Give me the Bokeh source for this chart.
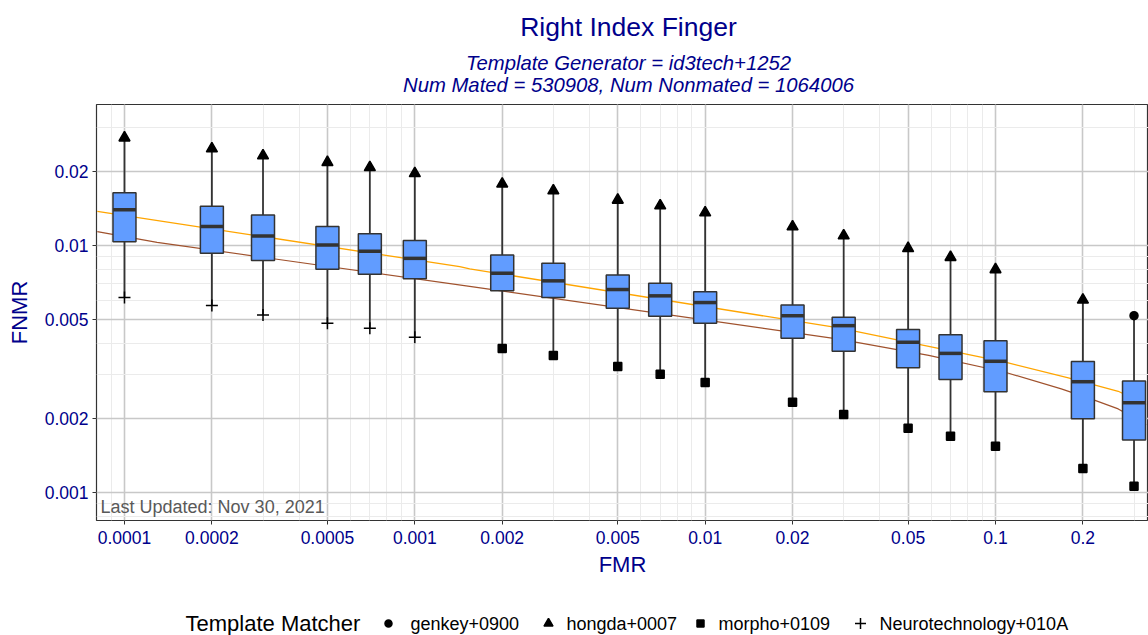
import numpy as np
from bokeh.plotting import figure
from bokeh.models import Range1d, FixedTicker, Label
from bokeh.layouts import column
from bokeh.embed import file_html
from bokeh.resources import INLINE
from bokeh.core.properties import value

# ---------------- data ----------------
FMR = [0.0001, 0.0002, 0.0003, 0.0005, 0.0007, 0.001, 0.002, 0.003, 0.005,
       0.007, 0.01, 0.02, 0.03, 0.05, 0.07, 0.1, 0.2, 0.3]
FNMR_MIN = [0.00616, 0.00572, 0.00524, 0.00485, 0.00463, 0.00425, 0.00383, 0.00359, 0.00324,
            0.00301, 0.00279, 0.00232, 0.00207, 0.00182, 0.00169, 0.00154, 0.00125, 0.00106]
FNMR_Q1 = [0.01038, 0.00931, 0.00870, 0.00802, 0.00765, 0.00735, 0.00656, 0.00616, 0.00558,
           0.00517, 0.00485, 0.00421, 0.00373, 0.00320, 0.00287, 0.00256, 0.00199, 0.00163]
FNMR_MED = [0.01399, 0.01194, 0.01095, 0.01007, 0.00948, 0.00888, 0.00773, 0.00720, 0.00664,
            0.00626, 0.00588, 0.00520, 0.00474, 0.00406, 0.00366, 0.00340, 0.00281, 0.00231]
FNMR_Q3 = [0.01639, 0.01443, 0.01331, 0.01194, 0.01118, 0.01048, 0.00917, 0.00848, 0.00761,
           0.00704, 0.00651, 0.00575, 0.00513, 0.00457, 0.00435, 0.00412, 0.00339, 0.00283]
FNMR_MAX = [0.02735, 0.02470, 0.02314, 0.02175, 0.02075, 0.01962, 0.01778, 0.01670, 0.01531,
            0.01452, 0.01360, 0.01194, 0.01098, 0.00975, 0.00897, 0.00800, 0.00603, 0.00520]
MAX_MATCHER = ["hongda+0007", "hongda+0007", "hongda+0007", "hongda+0007", "hongda+0007",
               "hongda+0007", "hongda+0007", "hongda+0007", "hongda+0007", "hongda+0007",
               "hongda+0007", "hongda+0007", "hongda+0007", "hongda+0007", "hongda+0007",
               "hongda+0007", "hongda+0007", "genkey+0900"]
MIN_MATCHER = ["Neurotechnology+010A", "Neurotechnology+010A", "Neurotechnology+010A",
               "Neurotechnology+010A", "Neurotechnology+010A", "Neurotechnology+010A",
               "morpho+0109", "morpho+0109", "morpho+0109", "morpho+0109", "morpho+0109",
               "morpho+0109", "morpho+0109", "morpho+0109", "morpho+0109", "morpho+0109",
               "morpho+0109", "morpho+0109"]

ORANGE_FMR = [0.0000806, 0.001428, 0.001545, 0.02888, 0.108, 0.1782, 0.2647, 0.3303]
ORANGE_FNMR = [0.01377, 0.00822, 0.00805, 0.00464, 0.00337, 0.00291, 0.00257, 0.00227]
BROWN_FMR = [0.0000806, 0.0001295, 0.001545, 0.02888, 0.0589, 0.108, 0.1685, 0.2202, 0.2647, 0.3303]
BROWN_FNMR = [0.01139, 0.01031, 0.00684, 0.00418, 0.00359, 0.00307, 0.00263, 0.00236, 0.00218, 0.00188]

MATCHERS = ["genkey+0900", "hongda+0007", "morpho+0109", "Neurotechnology+010A"]
MARKERS = ["circle", "triangle", "square", "cross"]

X_TICKS = [0.0001, 0.0002, 0.0005, 0.001, 0.002, 0.005, 0.01, 0.02, 0.05, 0.1, 0.2]
X_LABELS = ["0.0001", "0.0002", "0.0005", "0.001", "0.002", "0.005", "0.01", "0.02", "0.05", "0.1", "0.2"]
Y_TICKS = [0.001, 0.002, 0.005, 0.01, 0.02]
Y_LABELS = ["0.001", "0.002", "0.005", "0.01", "0.02"]

TITLE = "Right Index Finger"
SUB1 = "Template Generator = id3tech+1252"
SUB2 = "Num Mated = 530908, Num Nonmated = 1064006"
NOTE = "Last Updated: Nov 30, 2021"
LEGEND_TITLE = "Template Matcher"

# ---------------- style / layout ----------------
FONT = "Liberation Sans"
BLUE = "#00008B"
X_MIN, X_MAX = 8.01e-5, 0.3365
Y_MIN, Y_MAX = 0.00077, 0.0373
W = 1148
LEFT_B = 96
TITLE_H = 102          # header strip height
MAIN_TOP_B, FRAME_H, MAIN_BOTTOM_B = 2, 416, 64
MAIN_H = MAIN_TOP_B + FRAME_H + MAIN_BOTTOM_B
LEG_H = 635 - TITLE_H - MAIN_H
FRAME_W = W - LEFT_B
BOX_HALF_PX = 11.5
CENTER_X = 628

px_per_dec_x = FRAME_W / np.log10(X_MAX / X_MIN)
fac = 10 ** (BOX_HALF_PX / px_per_dec_x)
fmr = np.array(FMR)
box_left = fmr / fac
box_right = fmr * fac


def minor_list(lo, hi):
    out = []
    for e in range(-6, 1):
        for k in range(1, 10):
            v = k * 10.0 ** e
            if lo <= v <= hi:
                out.append(v)
    return out


def strip(height):
    f = figure(width=W, height=height, x_range=Range1d(LEFT_B, W), y_range=Range1d(0, height),
               output_backend="svg", toolbar_location=None,
               min_border_left=LEFT_B, min_border_right=0, min_border_top=0,
               min_border_bottom=0, x_axis_location=None, y_axis_location=None)
    f.grid.visible = False
    f.outline_line_color = None
    f.border_fill_color = "white"
    f.background_fill_color = "white"
    return f


# ---------------- header ----------------
hdr = strip(TITLE_H)
hdr.text(x=[CENTER_X], y=[TITLE_H - 26], text=[TITLE], text_font=value(FONT),
         text_font_size="26.5px", text_align="center", text_baseline="middle", text_color=BLUE)
hdr.text(x=[CENTER_X], y=[TITLE_H - 62], text=[SUB1], text_font=value(FONT),
         text_font_size="20.3px", text_font_style="italic", text_align="center",
         text_baseline="middle", text_color=BLUE)
hdr.text(x=[CENTER_X], y=[TITLE_H - 84], text=[SUB2], text_font=value(FONT),
         text_font_size="20.3px", text_font_style="italic", text_align="center",
         text_baseline="middle", text_color=BLUE)

# ---------------- main plot ----------------
p = figure(width=W, height=MAIN_H, x_axis_type="log", y_axis_type="log",
           x_range=Range1d(X_MIN, X_MAX), y_range=Range1d(Y_MIN, Y_MAX),
           output_backend="svg", toolbar_location=None,
           min_border_left=LEFT_B, min_border_right=0, min_border_top=MAIN_TOP_B,
           min_border_bottom=MAIN_BOTTOM_B, x_axis_label="FMR", y_axis_label="FNMR")

xt = FixedTicker(ticks=X_TICKS, minor_ticks=minor_list(X_MIN, X_MAX))
yt = FixedTicker(ticks=Y_TICKS, minor_ticks=minor_list(Y_MIN, Y_MAX))
p.xaxis.ticker = xt
p.yaxis.ticker = yt
p.xgrid.ticker = xt
p.ygrid.ticker = yt
p.xaxis.major_label_overrides = dict(zip(X_TICKS, X_LABELS))
p.yaxis.major_label_overrides = dict(zip(Y_TICKS, Y_LABELS))

for g in (p.xgrid, p.ygrid):
    g.grid_line_color = "#C8C8C8"
    g.grid_line_width = 1.6
    g.minor_grid_line_color = "#EBEBEB"
    g.minor_grid_line_width = 1

p.outline_line_color = "#333333"
p.outline_line_width = 1.2
p.background_fill_color = "white"
p.border_fill_color = "white"

for ax in (p.xaxis, p.yaxis):
    ax.axis_line_color = None
    ax.major_tick_line_color = "#333333"
    ax.major_tick_out = 4
    ax.major_tick_in = 0
    ax.minor_tick_out = 0
    ax.minor_tick_in = 0
    ax.major_label_text_font = FONT
    ax.major_label_text_font_size = "17.5px"
    ax.major_label_text_color = BLUE
    ax.axis_label_text_font = FONT
    ax.axis_label_text_font_size = "22px"
    ax.axis_label_text_font_style = "normal"
    ax.axis_label_text_color = BLUE
p.xaxis.major_label_standoff = 6
p.xaxis.axis_label_standoff = 5
p.yaxis.major_label_standoff = 4
p.yaxis.axis_label_standoff = 10

# curves
p.line(ORANGE_FMR, ORANGE_FNMR, line_color="#FFA500", line_width=1.3)
p.line(BROWN_FMR, BROWN_FNMR, line_color="#A0522D", line_width=1.2)

# whiskers + boxes
p.segment(x0=FMR, y0=FNMR_MIN, x1=FMR, y1=FNMR_MAX, line_color="#333333", line_width=1.8)
p.quad(left=box_left, right=box_right, bottom=FNMR_Q1, top=FNMR_Q3,
       fill_color="#619CFF", line_color="#333333", line_width=1.5)
p.segment(x0=box_left, y0=FNMR_MED, x1=box_right, y1=FNMR_MED,
          line_color="#333333", line_width=3.5)

# extreme markers (shape = template matcher)
sizes = {"circle": 8, "triangle": 11, "square": 8, "cross": 12}
for m, mk in zip(MATCHERS, MARKERS):
    xs = [x for x, mm in zip(FMR, MAX_MATCHER) if mm == m] + \
         [x for x, mm in zip(FMR, MIN_MATCHER) if mm == m]
    ys = [y for y, mm in zip(FNMR_MAX, MAX_MATCHER) if mm == m] + \
         [y for y, mm in zip(FNMR_MIN, MIN_MATCHER) if mm == m]
    p.scatter(xs, ys, marker=mk, size=sizes[mk], fill_color="black",
              line_color="black", line_width=1.5)

p.add_layout(Label(x=8.27e-5, y=0.000795, text=NOTE, text_font=FONT,
                   text_font_size="18px", text_color="#595959", text_baseline="bottom"))

# ---------------- legend strip ----------------
leg = strip(LEG_H)
ly = 12
leg.text(x=[185], y=[ly], text=[LEGEND_TITLE], text_font=value(FONT),
         text_font_size="22px", text_baseline="middle", text_color="black")
mk_x = [388, 548, 700, 860]
tx_x = [410, 566, 718, 879]
leg_sizes = {"circle": 7, "triangle": 9, "square": 7, "cross": 11}
for m, mk, mx, tx in zip(MATCHERS, MARKERS, mk_x, tx_x):
    leg.scatter([mx], [ly], marker=mk, size=leg_sizes[mk], fill_color="black",
                line_color="black", line_width=1.5)
    leg.text(x=[tx], y=[ly], text=[m], text_font=value(FONT), text_font_size="18px",
             text_baseline="middle", text_color="black")

layout = column(hdr, p, leg, spacing=0)
open("out.html", "w").write(file_html(layout, INLINE))
